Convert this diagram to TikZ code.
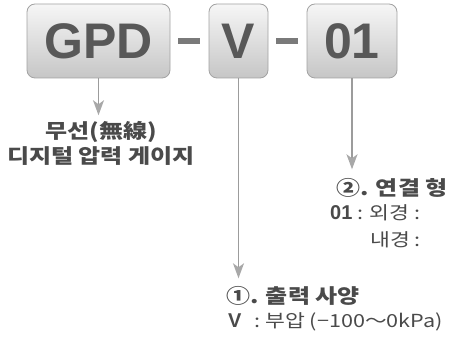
\documentclass[tikz,border=0pt]{standalone}
\usepackage{fontspec}
\setmainfont{Liberation Sans}
\newfontfamily\kr[FakeStretch=1.2]{Noto Sans CJK KR}
\usetikzlibrary{arrows.meta}
\definecolor{boxtop}{HTML}{F6F6F6}
\definecolor{boxbot}{HTML}{C6C6C6}
\definecolor{boxedge}{HTML}{A2A2A2}
\definecolor{codetxt}{HTML}{585858}
\definecolor{labtxt}{HTML}{4A4A4A}
\definecolor{linegray}{HTML}{9C9C9C}
\definecolor{headgray}{HTML}{A8A8A8}
\definecolor{dashgray}{HTML}{7A7A7A}
\newcommand\latinbold[1]{{\rmfamily\bfseries\fontsize{20}{22}\selectfont #1}}
\begin{document}
\begin{tikzpicture}[x=1pt,y=-1pt,
  codebox/.style={draw=boxedge, line width=0.8pt, rounded corners=8pt, top color=boxtop, bottom color=boxbot, minimum height=74pt, inner sep=0pt, text=codetxt, font=\fontsize{50}{50}\selectfont\bfseries},
  dashbar/.style={fill=dashgray, minimum width=22pt, minimum height=6pt, inner sep=0pt},
  leader/.style={draw=linegray, line width=1.5pt, -{Stealth[length=15pt, width=11pt, inset=4pt, color=headgray]}},
  boldlab/.style={text=labtxt, inner sep=0pt, font=\kr\bfseries\fontsize{20}{25}\selectfont, align=center},
  reglab/.style={text=labtxt, inner sep=0pt, font=\kr\fontsize{18}{22}\selectfont}]
\useasboundingbox (0,0) rectangle (449,344);
\clip (0,0) rectangle (449,344);
\node[codebox, minimum width=143pt] (gpd) at (98.5,41) {GPD};
\node[codebox, minimum width=59pt] (v) at (238.5,41) {V};
\node[codebox, minimum width=90pt] (o1) at (352,41) {01};
\node[dashbar] (d1) at (189,41) {};
\node[dashbar] (d2) at (287,41) {};
\node[boldlab] (lab1) at (101,143.5) {무선(無線)\\디지털 압력 게이지};
\node[boldlab, anchor=west] (out1) at (226,296) {①. 출력 사양};
\node[reglab, anchor=west] (out1v) at (228,322) {\latinbold{V}\hspace{13pt}: 부압 (−100～0kPa)};
\node[boldlab, anchor=west] (con1) at (336,188) {②. 연결 형};
\node[reglab, anchor=west] (con1a) at (330,213) {\latinbold{01} : 외경 :};
\node[reglab, anchor=west] (con1b) at (370,240) {내경 :};
\draw[leader, shorten >=6pt] (gpd.south) -- (gpd.south |- lab1.north);
\draw[leader, shorten >=8pt] (v.south) -- (v.south |- out1.north);
\draw[leader, shorten >=9pt] (o1.south) -- (o1.south |- con1.north);
\end{tikzpicture}
\end{document}
